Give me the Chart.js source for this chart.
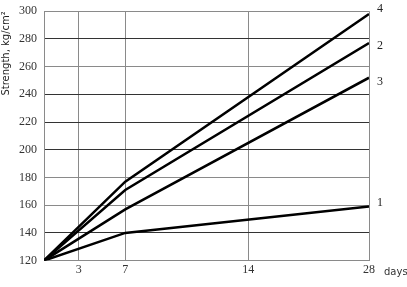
<!DOCTYPE html>
<html>
<head>
<meta charset="utf-8">
<script src="https://cdn.jsdelivr.net/npm/chart.js@4/dist/chart.umd.min.js"></script>
<style>
  html, body { margin: 0; padding: 0; background: #fff; }
  #box { width: 407px; height: 287px; }
</style>
</head>
<body>
<div id="box"><canvas id="strength"></canvas></div>
<script>
// age of concrete, days
const days = [0, 7, 28];
// strength for the four curves, kg/cm2
const curve1 = [120, 140, 159];
const curve2 = [120, 171, 277];
const curve3 = [120, 157, 252];
const curve4 = [120, 177, 298];
const curveNames = ["1", "2", "3", "4"];

// x ticks as drawn in the original (the 14 line sits off scale there)
const xTickPos = [0, 3, 7, 17.6, 28];
const xTickText = ["", "3", "7", "14", "28"];

const darkRows = [280, 240, 220, 200, 140];

function serie(name, vals) {
  return {
    label: name,
    data: days.map((d, i) => ({ x: d, y: vals[i] })),
    borderColor: "#000",
    borderWidth: 2.5,
    pointRadius: 0,
    tension: 0,
    fill: false,
  };
}

const endLabels = {
  id: "endLabels",
  afterDraw(chart) {
    const c = chart.ctx;
    const xs = chart.scales.x;
    const ys = chart.scales.y;
    c.save();
    c.fillStyle = "#222";
    c.font = "12px 'Liberation Serif'";
    c.textBaseline = "middle";
    const offs = [-4, 3, 4, -5];
    chart.data.datasets.forEach((ds, i) => {
      const last = ds.data[ds.data.length - 1];
      c.fillText(ds.label, xs.getPixelForValue(last.x) + 8, ys.getPixelForValue(last.y) + offs[i]);
    });
    c.font = "10px 'DejaVu Sans'";
    c.fillStyle = "#333";
    c.fillText("days", xs.right + 15, ys.bottom + 12);
    c.restore();
  },
};

new Chart(document.getElementById("strength"), {
  type: "line",
  data: {
    datasets: [
      serie(curveNames[0], curve1),
      serie(curveNames[1], curve2),
      serie(curveNames[2], curve3),
      serie(curveNames[3], curve4),
    ],
  },
  options: {
    responsive: true,
    maintainAspectRatio: false,
    animation: false,
    layout: { padding: { top: 0, right: 38, bottom: 8, left: 0 } },
    plugins: { legend: { display: false }, tooltip: { enabled: false } },
    scales: {
      x: {
        type: "linear",
        min: 0,
        max: 28,
        afterBuildTicks(axis) {
          axis.ticks = xTickPos.map(v => ({ value: v }));
        },
        ticks: {
          autoSkip: false,
          maxRotation: 0,
          color: "#333",
          font: { family: "'Liberation Serif'", size: 12 },
          padding: 2,
          callback: (v, i) => xTickText[i],
        },
        grid: { color: "#8a8a8a", lineWidth: 1, drawTicks: false },
        border: { color: "#8a8a8a" },
      },
      y: {
        min: 120,
        max: 300,
        ticks: {
          stepSize: 20,
          color: "#333",
          font: { family: "'Liberation Serif'", size: 12, lineHeight: 0.7 },
          padding: 7,
        },
        grid: {
          color: ctx => darkRows.includes(ctx.tick && ctx.tick.value) ? "#333" : "#8a8a8a",
          lineWidth: 1,
          drawTicks: false,
        },
        border: { color: "#8a8a8a" },
        title: {
          display: true,
          text: "Strength, kg/cm²",
          align: "end",
          color: "#222",
          font: { family: "'DejaVu Sans'", size: 10 },
          padding: { top: 0, bottom: 0 },
        },
      },
    },
  },
  plugins: [endLabels],
});
</script>
</body>
</html>
